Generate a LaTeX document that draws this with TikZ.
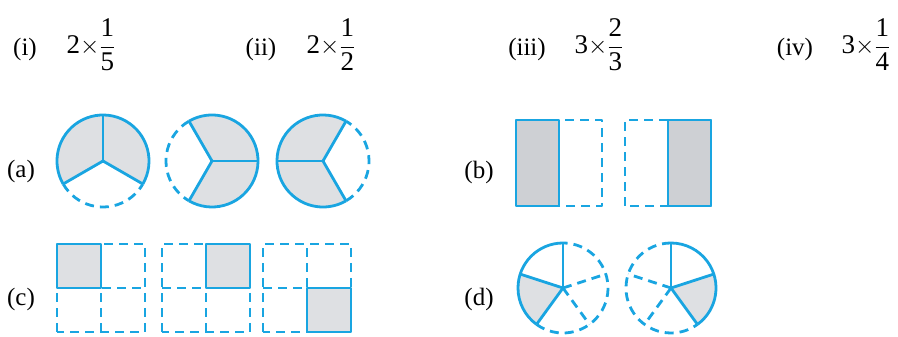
\documentclass[tikz,border=0pt]{standalone}
\usepackage{amsmath}
\usepackage{fontspec}
\setmainfont{Liberation Serif}
\usepackage{tikz}
\usetikzlibrary{calc}
\definecolor{azul}{RGB}{25,165,225}
\definecolor{gris}{RGB}{222,224,227}
\definecolor{grisosc}{RGB}{206,208,212}
\tikzstyle{etiqueta} = [font=\fontsize{25}{30}\selectfont, inner sep=0pt]
\tikzstyle{expresion} = [font=\fontsize{27}{32}\selectfont, inner sep=0pt]
\tikzstyle{linea} = [draw=azul, line width=2.8pt, line join=round]
\tikzstyle{discont} = [linea, dash pattern=on 9pt off 6pt]

\begin{document}
\begin{tikzpicture}[x=1pt, y=1pt]
    \useasboundingbox (0,0) rectangle (898,337);

    % Enunciados
    \node (lab-i) [etiqueta] at (25,288) {(i)};
    \node (expr-i) [expresion] at (91,292) {$\text{2}{\times}\dfrac{\text{1}}{\text{5}}$};
    \node (lab-ii) [etiqueta] at (261,288) {(ii)};
    \node (expr-ii) [expresion] at (331,292) {$\text{2}{\times}\dfrac{\text{1}}{\text{2}}$};
    \node (lab-iii) [etiqueta] at (527,288) {(iii)};
    \node (expr-iii) [expresion] at (599,292) {$\text{3}{\times}\dfrac{\text{2}}{\text{3}}$};
    \node (lab-iv) [etiqueta] at (795,288) {(iv)};
    \node (expr-iv) [expresion] at (866,292) {$\text{3}{\times}\dfrac{\text{1}}{\text{4}}$};

    % Opciones
    \node (lab-a) [etiqueta] at (21,166) {(a)};
    \node (lab-b) [etiqueta] at (479,165) {(b)};
    \node (lab-c) [etiqueta] at (21,38) {(c)};
    \node (lab-d) [etiqueta] at (479,38) {(d)};

    % (a) circulos en tercios
    \foreach \cx/\a in {103/-30, 212/-120, 323/60} {
        \fill[gris] (\cx,176) -- ++(\a:46) arc[start angle=\a, delta angle=240, radius=46] -- cycle;
        \draw[discont] (\cx,176) ++(\a+240:46) arc[start angle=\a+240, delta angle=120, radius=46];
        \draw[linea] (\cx,176) ++(\a:46) arc[start angle=\a, delta angle=240, radius=46];
        \foreach \s in {0,120,240} \draw[linea] (\cx,176) -- ++(\a+\s:46);
    }

    % (b) rectangulos en mitades
    \draw[discont] (516,131) rectangle (602,217);
    \draw[discont] (625,131) rectangle (711,217);
    \filldraw[linea, fill=grisosc] (516,131) rectangle (559,217);
    \filldraw[linea, fill=grisosc] (668,131) rectangle (711,217);

    % (c) cuadrados en cuartos
    \foreach \gx/\sx/\sy in {57/0/1, 162/1/1, 263/1/0} {
        \draw[discont] (\gx,5) rectangle ++(88,88);
        \draw[discont] (\gx+44,5) -- ++(0,88);
        \draw[discont] (\gx,49) -- ++(88,0);
        \filldraw[linea, fill=gris] (\gx+44*\sx,5+44*\sy) rectangle ++(44,44);
    }

    % (d) circulos en quintos
    \coordinate (d1) at (563,49);
    \coordinate (d2) at (671,49);
    \fill[gris] (d1) -- ++(162:45) arc[start angle=162, end angle=234, radius=45] -- cycle;
    \draw[discont] (d1) ++(234:45) arc[start angle=234, end angle=450, radius=45];
    \draw[discont] (d1) -- ++(306:45);
    \draw[discont] (d1) -- ++(18:45);
    \draw[linea] (d1) ++(90:45) arc[start angle=90, end angle=234, radius=45];
    \foreach \s in {90,162,234} \draw[linea] (d1) -- ++(\s:45);

    \fill[gris] (d2) -- ++(-54:45) arc[start angle=-54, end angle=18, radius=45] -- cycle;
    \draw[discont] (d2) ++(90:45) arc[start angle=90, end angle=306, radius=45];
    \draw[discont] (d2) -- ++(162:45);
    \draw[discont] (d2) -- ++(234:45);
    \draw[linea] (d2) ++(-54:45) arc[start angle=-54, end angle=90, radius=45];
    \foreach \s in {90,18,-54} \draw[linea] (d2) -- ++(\s:45);
\end{tikzpicture}
\end{document}
